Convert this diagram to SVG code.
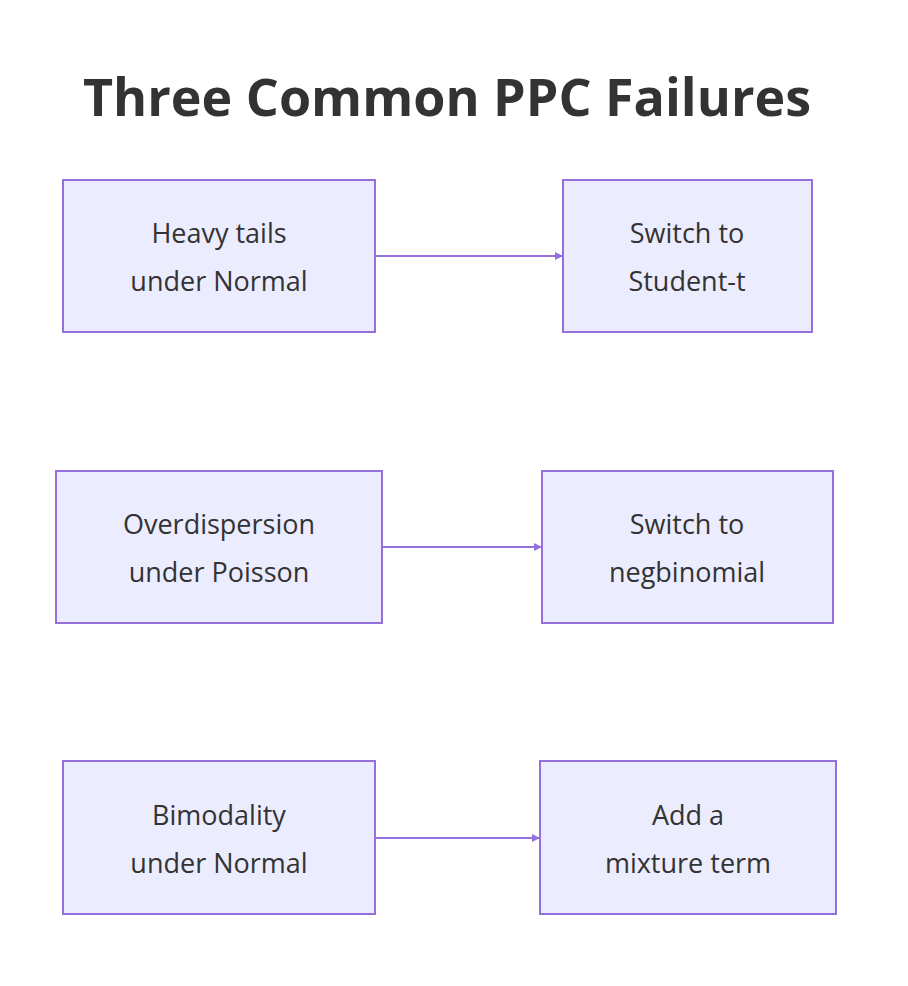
<svg xmlns="http://www.w3.org/2000/svg" width="908" height="986" viewBox="0 0 908 986">
<style>
.n{fill:#ECECFF;stroke:#9370DB;stroke-width:2}
.t{font-family:"Open Sans","Noto Sans",sans-serif;font-size:27px;fill:#333;text-anchor:middle}
.e{stroke:#9370DB;stroke-width:2;fill:none}
</style>
<defs><marker id="a" viewBox="0 0 10 10" refX="10" refY="5" markerWidth="8" markerHeight="8" markerUnits="userSpaceOnUse" orient="auto"><path d="M0,0L10,5L0,10z" fill="#9370DB"/></marker></defs>
<rect width="908" height="986" fill="#fff"/>
<text x="447" y="116" font-family="'Open Sans','Noto Sans',sans-serif" font-size="52" font-weight="bold" fill="#333" text-anchor="middle">Three Common PPC Failures</text>
<g id="connectors">
<path class="e" d="M375,256H563" marker-end="url(#a)"/>
<path class="e" d="M382,547H542" marker-end="url(#a)"/>
<path class="e" d="M375,838H540" marker-end="url(#a)"/>
</g>
<g id="n1"><rect class="n" x="63" y="180" width="312" height="152"/><text class="t" x="219" y="243">Heavy tails</text><text class="t" x="219" y="291">under Normal</text></g>
<g id="n2"><rect class="n" x="563" y="180" width="249" height="152"/><text class="t" x="687" y="243">Switch to</text><text class="t" x="687" y="291">Student-t</text></g>
<g id="n3"><rect class="n" x="56" y="471" width="326" height="152"/><text class="t" x="219" y="534">Overdispersion</text><text class="t" x="219" y="582">under Poisson</text></g>
<g id="n4"><rect class="n" x="542" y="471" width="291" height="152"/><text class="t" x="687" y="534">Switch to</text><text class="t" x="687" y="582">negbinomial</text></g>
<g id="n5"><rect class="n" x="63" y="761" width="312" height="153"/><text class="t" x="219" y="825">Bimodality</text><text class="t" x="219" y="873">under Normal</text></g>
<g id="n6"><rect class="n" x="540" y="761" width="296" height="153"/><text class="t" x="688" y="825">Add a</text><text class="t" x="688" y="873">mixture term</text></g>
</svg>
